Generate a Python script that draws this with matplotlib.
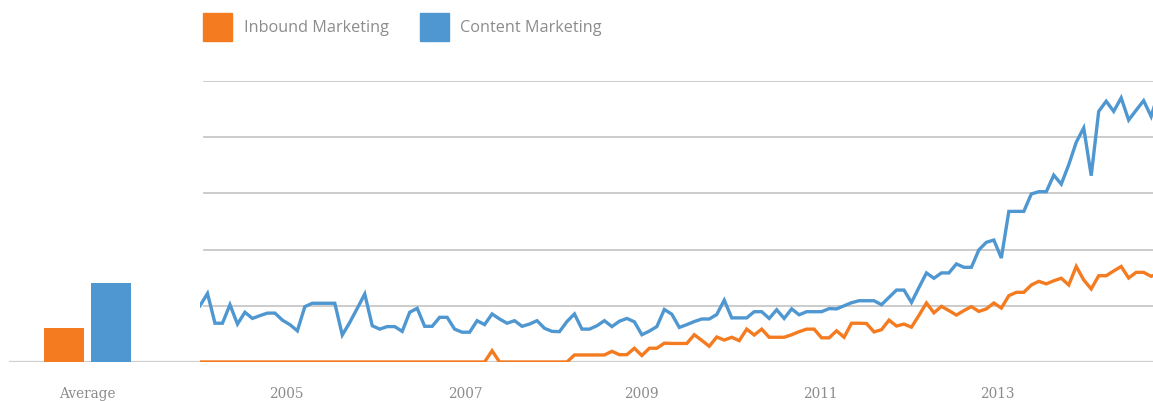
import matplotlib
matplotlib.use("Agg")
import matplotlib.pyplot as plt
from matplotlib.patches import Rectangle

# ---------------- data ----------------
series_names = ["Inbound Marketing", "Content Marketing"]
series_colors = ["#F47B20", "#4F97D1"]

inbound = [0.0] * 39 + [4.0] + [0.0] * 10 + [
    2.5, 2.5, 2.5, 2.5, 2.5, 3.8, 2.6, 2.6, 4.9, 2.3,
    4.9, 4.9, 6.7, 6.6, 6.6, 6.6, 9.7, 7.7, 5.6, 8.9,
    7.8, 8.8, 7.6, 11.7, 9.6, 11.7, 8.8, 8.8, 8.8, 9.7,
    10.8, 11.7, 11.7, 8.6, 8.6, 11.1, 8.8, 13.8, 13.8, 13.7,
    10.7, 11.5, 14.9, 12.8, 13.5, 12.4, 16.6, 21.0, 17.5, 19.8,
    18.3, 16.7, 18.3, 19.7, 18.0, 18.9, 21.0, 19.2, 23.6, 24.8,
    24.8, 27.4, 28.7, 27.8, 28.9, 29.8, 27.4, 34.0, 29.2, 26.0,
    30.7, 30.7, 32.4, 34.0, 29.9, 31.9, 31.9, 30.5, 31.5,
]

content = [
    20.0, 24.4, 13.8, 13.8, 20.4, 13.5, 17.7, 15.5, 16.5, 17.4,
    17.4, 14.9, 13.3, 11.1, 19.7, 20.9, 20.9, 20.9, 20.9, 9.6,
    14.1, 19.1, 24.2, 12.9, 11.7, 12.6, 12.6, 10.9, 17.7, 19.1,
    12.7, 12.7, 15.9, 15.9, 11.7, 10.6, 10.6, 14.7, 13.3, 17.1,
    15.3, 13.8, 14.7, 12.7, 13.5, 14.7, 12.0, 10.9, 10.8, 14.4,
    17.1, 11.7, 11.7, 12.9, 14.7, 12.6, 14.5, 15.5, 14.3, 9.7,
    11.0, 12.6, 18.7, 17.0, 12.3, 13.3, 14.4, 15.3, 15.3, 16.9,
    22.0, 15.7, 15.7, 15.7, 17.9, 17.9, 15.5, 18.6, 15.5, 18.9,
    16.8, 17.9, 17.9, 17.9, 19.0, 18.9, 20.0, 21.1, 21.8, 21.8,
    21.8, 20.4, 23.0, 25.6, 25.6, 21.2, 26.5, 31.7, 29.8, 31.7,
    31.7, 34.9, 33.7, 33.7, 39.9, 42.6, 43.4, 37.0, 53.6, 53.6,
    53.6, 59.8, 60.6, 60.6, 66.5, 63.3, 70.2, 78.2, 83.3, 66.3,
    89.2, 92.8, 89.2, 94.0, 86.1, 89.6, 93.0, 87.4, 96.0,
]

averages = [12.1, 28.1]
average_label = "Average"

year_labels = ["2005", "2007", "2009", "2011", "2013"]
year_positions = [11.6, 35.4, 59.0, 82.8, 106.5]   # in month-index units

# ---------------- layout ----------------
W, H = 1153, 402
fig = plt.figure(figsize=(W / 100, H / 100), dpi=100)
fig.patch.set_facecolor("white")

def fx(px):
    return px / W

def fy(py):
    return 1 - py / H

base_py, top_py = 363, 82
ax_left, ax_right = 200, 1153

ax = fig.add_axes([fx(ax_left), fy(base_py), fx(ax_right - ax_left), fy(top_py) - fy(base_py)])
bx = fig.add_axes([fx(9), fy(base_py), fx(ax_left - 9), fy(top_py) - fy(base_py)])

grid_color = "#c8c8c8"
text_gray = "#8c8c8c"
label_pad = 17.5

# main axes
xs = list(range(len(content)))
ax.set_xlim(0, 127.25)
ax.set_ylim(0, 100)
for v in [20, 40, 60, 80, 100]:
    ax.axhline(v, xmin=0.004, color=grid_color, lw=1.3, zorder=0)
ax.axhline(0, color="#cfcfcf", lw=1.6, zorder=1)
ax.plot(list(range(len(inbound))), inbound, color=series_colors[0], lw=2.4,
        solid_joinstyle="miter", zorder=3)
ax.plot(xs, content, color=series_colors[1], lw=2.4,
        solid_joinstyle="miter", zorder=3)
for s in ax.spines.values():
    s.set_visible(False)
ax.set_yticks([])
ax.set_xticks(year_positions)
ax.set_xticklabels(year_labels, family="DejaVu Serif", fontsize=9.8, color=text_gray)
ax.tick_params(axis="x", length=0, pad=label_pad)
ax.set_facecolor("none")

# average bars
bar_pos = [0, 1]
bx.bar(bar_pos, averages, width=0.85, color=series_colors, zorder=2)
bx.set_xlim(-1.170, 2.894)
bx.set_ylim(0, 100)
bx.axhline(0, color="#cfcfcf", lw=1.6, zorder=1)
for s in bx.spines.values():
    s.set_visible(False)
bx.set_yticks([])
bx.set_xticks([0.5])
bx.set_xticklabels([average_label], family="DejaVu Serif", fontsize=9.8, color=text_gray)
bx.tick_params(axis="x", length=0, pad=label_pad)
bx.set_facecolor("none")

# legend
legend_items = [(203, series_colors[0], series_names[0], 244),
                (420, series_colors[1], series_names[1], 460)]
for sx, col, name, tx in legend_items:
    fig.patches.append(Rectangle((fx(sx), fy(42)), fx(29), fy(14) - fy(42),
                                 transform=fig.transFigure, color=col))
    fig.text(fx(tx), fy(28), name, family="Open Sans", fontsize=11.7,
             color=text_gray, va="center", ha="left")

fig.savefig("out.png", dpi=100, facecolor="white")
